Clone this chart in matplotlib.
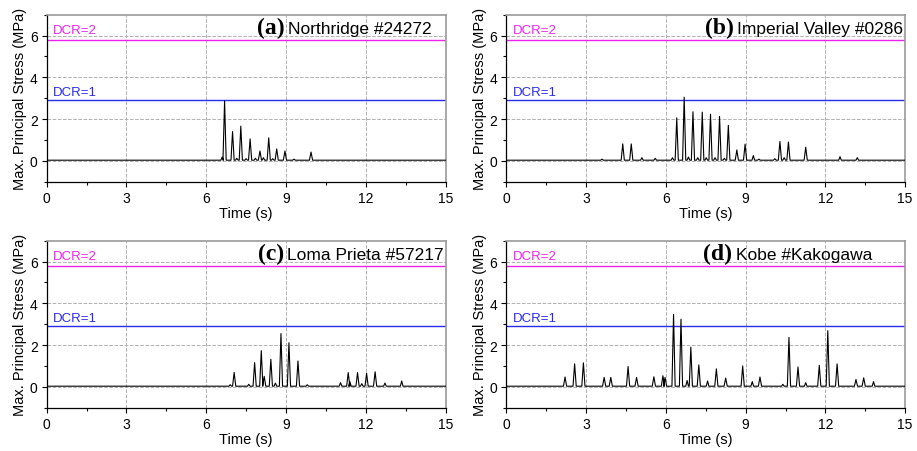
import numpy as np
from matplotlib import pyplot as plt
from matplotlib.ticker import MultipleLocator

plt.rcParams['font.family'] = ['Liberation Sans', 'DejaVu Sans']
plt.rcParams['font.size'] = 9

# record names and panel letters
letters = ["(a)", "(b)", "(c)", "(d)"]
names = ["Northridge #24272", "Imperial Valley #0286", "Loma Prieta #57217", "Kobe #Kakogawa"]

# spike times (s) and peak stress (MPa)
peaks_t = [
    [6.60, 6.69, 6.99, 7.15, 7.30, 7.50, 7.65, 7.85, 8.02, 8.15, 8.35, 8.50, 8.65, 8.96, 9.30, 9.94],
    [3.60, 4.38, 4.70, 5.10, 5.60, 6.25, 6.41, 6.69, 6.85, 7.02, 7.20, 7.37, 7.52, 7.68, 7.85, 8.02,
     8.20, 8.35, 8.67, 8.98, 9.29, 9.50, 10.10, 10.29, 10.45, 10.61, 11.26, 12.55, 13.20],
    [6.90, 7.05, 7.60, 7.82, 8.07, 8.18, 8.43, 8.60, 8.81, 9.11, 9.45, 9.80, 11.05, 11.34, 11.40,
     11.69, 11.85, 12.03, 12.35, 12.72, 13.35],
    [2.21, 2.57, 2.90, 3.68, 3.93, 4.58, 4.90, 5.55, 5.89, 5.97, 6.29, 6.57, 6.80, 6.94, 7.24, 7.57,
     7.90, 8.25, 8.89, 9.25, 9.54, 10.40, 10.63, 10.97, 11.26, 11.77, 12.09, 12.44, 13.15, 13.44, 13.81],
]
peaks_h = [
    [0.18, 2.87, 1.40, 0.12, 1.66, 0.10, 1.05, 0.12, 0.47, 0.15, 1.10, 0.10, 0.57, 0.47, 0.08, 0.42],
    [0.08, 0.81, 0.81, 0.15, 0.12, 0.15, 2.06, 3.05, 0.18, 2.35, 0.15, 2.33, 0.15, 2.23, 0.15, 2.13,
     0.12, 1.70, 0.52, 0.80, 0.25, 0.08, 0.10, 0.93, 0.15, 0.90, 0.65, 0.20, 0.15],
    [0.10, 0.69, 0.12, 1.16, 1.73, 0.50, 1.32, 0.18, 2.55, 2.11, 1.24, 0.10, 0.20, 0.68, 0.25,
     0.68, 0.15, 0.65, 0.72, 0.18, 0.28],
    [0.47, 1.10, 1.15, 0.45, 0.45, 0.97, 0.45, 0.48, 0.53, 0.45, 3.47, 3.24, 0.30, 1.90, 1.05, 0.28,
     0.86, 0.42, 1.00, 0.25, 0.47, 0.12, 2.37, 0.95, 0.20, 1.03, 2.69, 1.10, 0.35, 0.43, 0.25],
]
baseline = 0.03
dcr1 = 2.9
dcr2 = 5.8

# name start positions (s) as placed in the original
name_x = [9.07, 8.66, 9.05, 8.62]

fig = plt.figure(figsize=(9.17, 4.52), dpi=100)
lefts = [0.0509, 0.5521, 0.0509, 0.5521]
bottoms = [0.5958, 0.5958, 0.0958, 0.0958]
w, h = 0.435, 0.3695

for i in range(4):
    ax = fig.add_axes([lefts[i], bottoms[i], w, h])
    # build spike trace
    xs = [0.0]
    ys = [baseline]
    for t, p in zip(peaks_t[i], peaks_h[i]):
        hw = 0.06 if p > 0.3 else 0.05
        xs += [t - hw, t, t + hw]
        ys += [baseline, p, baseline]
    xs.append(15.0)
    ys.append(baseline)
    ax.plot(xs, ys, color='black', lw=0.8, zorder=3)

    ax.axhline(dcr2, color='#ee22ee', lw=1.0, zorder=2)
    ax.axhline(dcr1, color='#2a2aee', lw=1.0, zorder=2)
    ax.text(0.25, dcr2 + 0.3, "DCR=2", color='#ee22ee', fontsize=9.5)
    ax.text(0.25, dcr1 + 0.24, "DCR=1", color='#2a2aee', fontsize=9.5)

    ax.text(name_x[i], 6.13, names[i], fontsize=12.5, ha='left', va='baseline')
    ax.text(name_x[i] - 0.12, 6.13, letters[i], fontsize=17, fontweight='bold',
            family='Liberation Serif', ha='right', va='baseline')

    ax.set_xlim(0, 15)
    ax.set_ylim(-1, 7)
    ax.xaxis.set_major_locator(MultipleLocator(3))
    ax.xaxis.set_minor_locator(MultipleLocator(1.5))
    ax.yaxis.set_major_locator(MultipleLocator(2))
    ax.yaxis.set_minor_locator(MultipleLocator(1))
    ax.tick_params(which='major', direction='out', length=3.5, width=0.8, labelsize=10, pad=3)
    ax.tick_params(which='minor', direction='out', length=2, width=0.8)
    ax.grid(True, which='major', color='#b0b0b0', ls='--', lw=0.7)
    for s in ['top', 'right']:
        ax.spines[s].set_color('#999999')
        ax.spines[s].set_linewidth(1.2)
    for s in ['left', 'bottom']:
        ax.spines[s].set_linewidth(0.9)
    ax.set_xlabel("Time (s)", fontsize=10.5, labelpad=1)
    ax.set_ylabel("Max. Principal Stress (MPa)", fontsize=10.5, labelpad=2)

plt.savefig("out.png", dpi=100)
